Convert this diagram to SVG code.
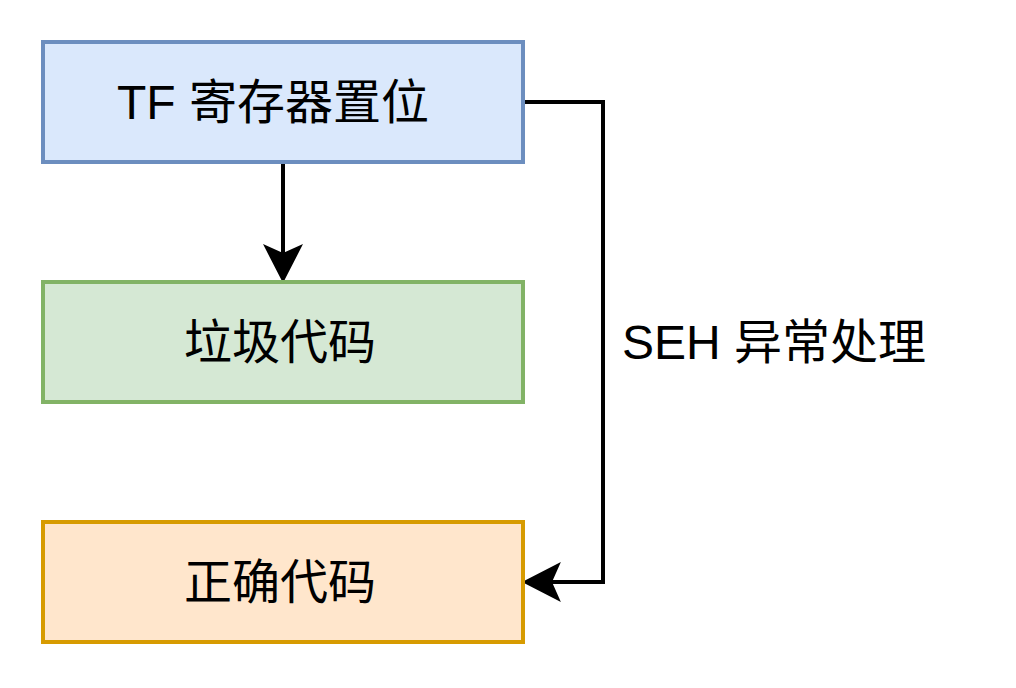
<svg xmlns="http://www.w3.org/2000/svg" width="1016" height="688" viewBox="0 0 1016 688">
<defs>
<style>
.lbl{font-family:"Liberation Sans","Noto Sans CJK SC",sans-serif;font-size:48px;fill:#000;text-anchor:middle;dominant-baseline:central}
.edge{fill:none;stroke:#000;stroke-width:4}
</style>
<marker id="arr" markerUnits="userSpaceOnUse" markerWidth="40" markerHeight="40" viewBox="0 0 36 36" refX="8" refY="18" orient="auto">
<path d="M0,0 L35,18 L0,36 L8,18 Z" fill="#000"/>
</marker>
</defs>
<rect width="1016" height="688" fill="#fff"/>
<g id="connectors">
<path class="edge" d="M283,162 L283,253" marker-end="url(#arr)"/>
<path class="edge" d="M523,102 L603,102 L603,582 L552,582" marker-end="url(#arr)"/>
</g>
<g id="node-tf">
<rect x="43" y="42" width="480" height="120" fill="#dae8fc" stroke="#6c8ebf" stroke-width="4"/>
<text class="lbl" x="273" y="102">TF 寄存器置位</text>
</g>
<g id="node-junk">
<rect x="43" y="282" width="480" height="120" fill="#d5e8d4" stroke="#82b366" stroke-width="4"/>
<text class="lbl" x="280" y="342">垃圾代码</text>
</g>
<g id="node-correct">
<rect x="43" y="522" width="480" height="120" fill="#ffe6cc" stroke="#d79b00" stroke-width="4"/>
<text class="lbl" x="280" y="582">正确代码</text>
</g>
<g id="edge-label">
<text class="lbl" x="774" y="342">SEH 异常处理</text>
</g>
</svg>
